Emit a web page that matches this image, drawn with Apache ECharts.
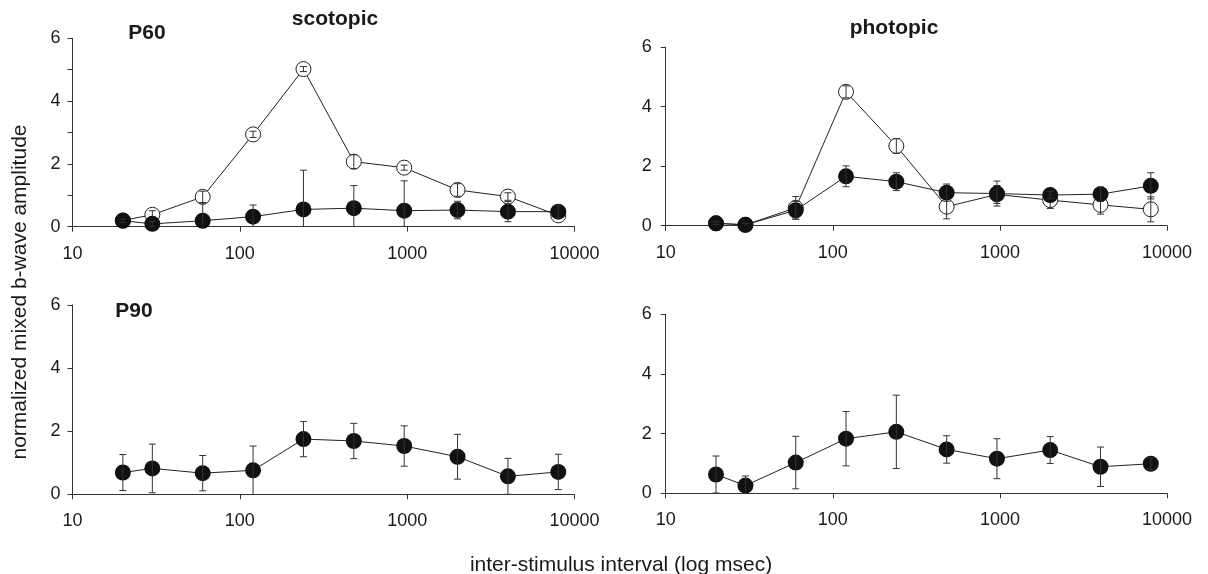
<!DOCTYPE html>
<html lang="en">

<head>
    <meta charset="UTF-8">
    <title>normalized mixed b-wave amplitude</title>
    <script src="https://cdn.jsdelivr.net/npm/echarts@6/dist/echarts.min.js"></script>
    <style type="text/css">
    html, body {
        margin: 0;
        padding: 0;
        background: #fff;
    }
    .chart-content {
        width: 1208px;
        height: 574px;
    }
    </style>
</head>

<body>
    <div id="main" class="chart-content"></div>
    <script type="text/javascript">
        // 刺激间隔 (msec)
        var intervals = [20, 30, 60, 120, 240, 480, 960, 2000, 4000, 8000];
        var xTickLabels = [10, 100, 1000, 10000];
        var yTickLabels = [0, 2, 4, 6];

        // P60 scotopic
        var scotP60Open = [0.2, 0.38, 0.95, 2.94, 5.02, 2.07, 1.88, 1.17, 0.96, 0.36];
        var scotP60OpenErr = [0.05, 0.13, 0.18, 0.1, 0.08, 0.22, 0.08, 0.2, 0.12, 0.1];
        var scotP60Closed = [0.19, 0.09, 0.19, 0.32, 0.55, 0.59, 0.51, 0.53, 0.48, 0.48];
        var scotP60ClosedErr = [0.06, 0.08, 0.56, 0.37, 1.25, 0.72, 0.95, 0.28, 0.32, 0.2];

        // P60 photopic
        var photP60Open = [0.08, 0.03, 0.6, 4.5, 2.68, 0.64, 1.05, 0.86, 0.7, 0.55];
        var photP60OpenErr = [0.04, 0.04, 0.38, 0.2, 0.25, 0.41, 0.3, 0.28, 0.31, 0.42];
        var photP60Closed = [0.08, 0.03, 0.52, 1.66, 1.48, 1.11, 1.08, 1.03, 1.06, 1.34];
        var photP60ClosedErr = [0.05, 0.05, 0.3, 0.35, 0.3, 0.29, 0.42, 0.12, 0.24, 0.44];

        // P90
        var scotP90Closed = [0.69, 0.82, 0.67, 0.76, 1.75, 1.69, 1.53, 1.19, 0.57, 0.71];
        var scotP90ClosedErr = [0.57, 0.77, 0.56, 0.77, 0.56, 0.56, 0.64, 0.71, 0.57, 0.56];
        var photP90Closed = [0.63, 0.26, 1.03, 1.83, 2.06, 1.47, 1.16, 1.45, 0.89, 0.99];
        var photP90ClosedErr = [0.62, 0.32, 0.88, 0.91, 1.23, 0.46, 0.67, 0.45, 0.66, 0.2];

        var fontName = '"Liberation Sans", Arial, sans-serif';
        var inkColor = '#1a1a1a';

        function pairs(vals) {
            var arr = [];
            for (var i = 0; i < intervals.length; i++) {
                arr.push([intervals[i], vals[i]]);
            }
            return arr;
        }

        function triples(vals, errs) {
            var arr = [];
            for (var i = 0; i < intervals.length; i++) {
                arr.push([intervals[i], vals[i], errs[i]]);
            }
            return arr;
        }

        //误差线
        function renderErrorBar(params, api) {
            var x = api.value(0);
            var y = api.value(1);
            var e = api.value(2);
            var hi = api.coord([x, y + e]);
            var lo = api.coord([x, y - e]);
            var hw = 3.5;
            var style = { stroke: '#333', lineWidth: 1 };
            return {
                type: 'group',
                children: [
                    { type: 'line', shape: { x1: hi[0], y1: hi[1], x2: lo[0], y2: lo[1] }, style: style },
                    { type: 'line', shape: { x1: hi[0] - hw, y1: hi[1], x2: hi[0] + hw, y2: hi[1] }, style: style },
                    { type: 'line', shape: { x1: lo[0] - hw, y1: lo[1], x2: lo[0] + hw, y2: lo[1] }, style: style }
                ]
            };
        }

        function makeXAxis(idx) {
            return {
                type: 'log',
                logBase: 10,
                gridIndex: idx,
                min: 10,
                max: 10000,
                axisLine: { show: true, lineStyle: { color: '#333', width: 1 } },
                axisTick: { show: true, inside: false, length: 5, lineStyle: { color: '#333' } },
                axisLabel: {
                    margin: 18,
                    fontSize: 18,
                    fontFamily: fontName,
                    color: inkColor,
                    formatter: function(v) {
                        return xTickLabels.indexOf(Math.round(v)) >= 0 ? String(Math.round(v)) : '';
                    }
                },
                splitLine: { show: false },
                minorTick: { show: false }
            };
        }

        function makeYAxis(idx, interval, margin) {
            return {
                type: 'value',
                gridIndex: idx,
                min: 0,
                max: 6,
                interval: interval,
                axisLine: { show: true, lineStyle: { color: '#333', width: 1 } },
                axisTick: { show: true, inside: false, length: 5, lineStyle: { color: '#333' } },
                axisLabel: {
                    margin: margin,
                    fontSize: 18,
                    fontFamily: fontName,
                    color: inkColor,
                    formatter: function(v) {
                        return yTickLabels.indexOf(v) >= 0 ? String(v) : '';
                    }
                },
                splitLine: { show: false }
            };
        }

        function lineSeries(idx, vals, open) {
            return {
                type: 'line',
                xAxisIndex: idx,
                yAxisIndex: idx,
                data: pairs(vals),
                symbol: 'circle',
                symbolSize: open ? 15 : 16,
                showAllSymbol: true,
                lineStyle: { color: '#222', width: 1 },
                itemStyle: open ? { color: '#fff', borderColor: '#222', borderWidth: 1 } : { color: '#111', borderColor: '#111', borderWidth: 0 },
                emphasis: { disabled: true },
                z: open ? 2 : 4
            };
        }

        function errSeries(idx, vals, errs, open) {
            return {
                type: 'custom',
                xAxisIndex: idx,
                yAxisIndex: idx,
                renderItem: renderErrorBar,
                data: triples(vals, errs),
                encode: { x: 0, y: 1 },
                clip: true,
                z: open ? 3 : 5
            };
        }

        function titleText(text, x, y, size) {
            return {
                type: 'text',
                x: x,
                y: y,
                style: {
                    text: text,
                    fill: inkColor,
                    font: 'bold ' + size + 'px ' + fontName,
                    textAlign: 'center',
                    textVerticalAlign: 'middle'
                }
            };
        }

        var myChart = echarts.init(document.getElementById('main'), null, { renderer: 'canvas' });

        var option = {
            animation: false,
            backgroundColor: '#fff',
            grid: [
                { left: 72.5, top: 38.3, width: 502, height: 188.4, containLabel: false },
                { left: 665.7, top: 47.2, width: 501.3, height: 178.5, containLabel: false },
                { left: 72.5, top: 305, width: 502, height: 189.3, containLabel: false },
                { left: 665.7, top: 314.3, width: 501.3, height: 179, containLabel: false }
            ],
            xAxis: [makeXAxis(0), makeXAxis(1), makeXAxis(2), makeXAxis(3)],
            yAxis: [makeYAxis(0, 1, 12), makeYAxis(1, 2, 14), makeYAxis(2, 2, 12), makeYAxis(3, 2, 14)],
            series: [
                lineSeries(0, scotP60Open, true),
                errSeries(0, scotP60Open, scotP60OpenErr, true),
                lineSeries(0, scotP60Closed, false),
                errSeries(0, scotP60Closed, scotP60ClosedErr, false),

                lineSeries(1, photP60Open, true),
                errSeries(1, photP60Open, photP60OpenErr, true),
                lineSeries(1, photP60Closed, false),
                errSeries(1, photP60Closed, photP60ClosedErr, false),

                lineSeries(2, scotP90Closed, false),
                errSeries(2, scotP90Closed, scotP90ClosedErr, false),

                lineSeries(3, photP90Closed, false),
                errSeries(3, photP90Closed, photP90ClosedErr, false)
            ],
            graphic: [
                titleText('scotopic', 335, 19, 21),
                titleText('P60', 147, 33, 21),
                titleText('photopic', 894, 28, 21),
                titleText('P90', 134, 311, 21),
                {
                    type: 'text',
                    x: 20,
                    y: 292,
                    rotation: Math.PI / 2,
                    style: {
                        text: 'normalized mixed b-wave amplitude',
                        fill: inkColor,
                        font: '21px ' + fontName,
                        textAlign: 'center',
                        textVerticalAlign: 'middle'
                    }
                },
                {
                    type: 'text',
                    x: 621,
                    y: 565,
                    style: {
                        text: 'inter-stimulus interval (log msec)',
                        fill: inkColor,
                        font: '21px ' + fontName,
                        textAlign: 'center',
                        textVerticalAlign: 'middle'
                    }
                }
            ]
        };

        myChart.setOption(option);
    </script>
</body>

</html>
